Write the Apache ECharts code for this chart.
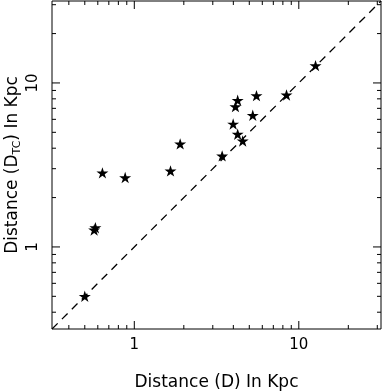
<!DOCTYPE html>
<html>
<head>
<meta charset="utf-8">
<script src="https://cdn.jsdelivr.net/npm/echarts@6/dist/echarts.min.js"></script>
<style>
  html, body { margin: 0; padding: 0; background: #fff; }
  #chart { width: 383px; height: 391px; }
</style>
</head>
<body>
<div id="chart"></div>
<script>
// distances
const distD  = [0.50, 0.58, 0.57, 0.64, 0.88, 1.66, 1.90, 3.42, 4.25, 4.12, 5.53, 5.25, 3.99, 4.25, 4.56, 8.42, 12.64];
const distTC = [0.50, 1.31, 1.27, 2.83, 2.65, 2.91, 4.25, 3.59, 7.84, 7.17, 8.37, 6.35, 5.62, 4.87, 4.43, 8.45, 12.76];
const axisRange = [0.316, 31.6];
const majorTicks = [1, 10];
const minorTicks = [0.4, 0.5, 0.6, 0.7, 0.8, 0.9, 2, 3, 4, 5, 6, 7, 8, 9, 20, 30];

const font = 'DejaVu Sans';
const star = 'path://M50,0 L61.8,36.3 L100,36.3 L69.1,58.8 L80.9,95.1 L50,72.7 L19.1,95.1 L30.9,58.8 L0,36.3 L38.2,36.3 Z';

const chart = echarts.init(document.getElementById('chart'));

// tick list: [value, 2 = major / 1 = minor]
const tickList = majorTicks.map(v => [v, 2]).concat(minorTicks.map(v => [v, 1]));

// draws ticks on both opposite sides (inside), like the old IDL frame
function tickRenderer(horizontal) {
    return function (params, api) {
        const v = api.value(horizontal ? 0 : 1);
        const len = api.value(2) === 2 ? 8 : 4;
        const st = { stroke: '#000', lineWidth: 1 };
        if (horizontal) {
            const a = api.coord([v, axisRange[0]]);
            const b = api.coord([v, axisRange[1]]);
            return { type: 'group', children: [
                { type: 'line', shape: { x1: a[0], y1: a[1], x2: a[0], y2: a[1] - len }, style: st },
                { type: 'line', shape: { x1: b[0], y1: b[1], x2: b[0], y2: b[1] + len }, style: st }
            ] };
        }
        const a = api.coord([axisRange[0], v]);
        const b = api.coord([axisRange[1], v]);
        return { type: 'group', children: [
            { type: 'line', shape: { x1: a[0], y1: a[1], x2: a[0] + len, y2: a[1] }, style: st },
            { type: 'line', shape: { x1: b[0], y1: b[1], x2: b[0] - len, y2: b[1] }, style: st }
        ] };
    };
}

const option = {
    animation: false,
    grid: {
        left: 52, right: 2, top: 1, bottom: 62,
        show: true, borderColor: '#000', borderWidth: 1,
        containLabel: false,
        outerBoundsMode: 'none'
    },
    xAxis: {
        type: 'log',
        min: axisRange[0],
        max: axisRange[1],
        axisLine: { show: false },
        axisTick: { show: false },
        splitLine: { show: false },
        axisLabel: { customValues: majorTicks, color: '#000', fontFamily: font, fontSize: 15, margin: 9 },
        name: 'Distance (D) In Kpc',
        nameLocation: 'middle',
        nameGap: 45,
        nameMoveOverlap: false,
        nameTextStyle: { color: '#000', fontFamily: font, fontSize: 17 }
    },
    yAxis: {
        type: 'log',
        min: axisRange[0],
        max: axisRange[1],
        axisLine: { show: false },
        axisTick: { show: false },
        splitLine: { show: false },
        axisLabel: { customValues: majorTicks, rotate: 90, color: '#000', fontFamily: font, fontSize: 15, margin: 11 },
        name: '{a|Distance (D}{s|TC}{a|) In Kpc}',
        nameLocation: 'middle',
        nameGap: 30,
        nameMoveOverlap: false,
        nameTextStyle: {
            color: '#000',
            rich: {
                a: { fontFamily: font, fontSize: 17, color: '#000', lineHeight: 18 },
                s: { fontFamily: font, fontSize: 11, color: '#000', lineHeight: 18, padding: [8, 0, 0, 0] }
            }
        }
    },
    series: [
        {
            type: 'custom',
            renderItem: tickRenderer(true),
            data: tickList.map(t => [t[0], axisRange[0], t[1]]),
            silent: true
        },
        {
            type: 'custom',
            renderItem: tickRenderer(false),
            data: tickList.map(t => [axisRange[0], t[0], t[1]]),
            silent: true
        },
        {
            type: 'line',
            data: axisRange.map(v => [v, v]),
            symbol: 'none',
            lineStyle: { color: '#000', width: 1.3, type: [8, 6] },
            silent: true
        },
        {
            type: 'scatter',
            data: distD.map((d, i) => [d, distTC[i]]),
            symbol: star,
            symbolSize: 12,
            symbolKeepAspect: true,
            itemStyle: { color: '#000', opacity: 1 }
        }
    ]
};

chart.setOption(option);
</script>
</body>
</html>
